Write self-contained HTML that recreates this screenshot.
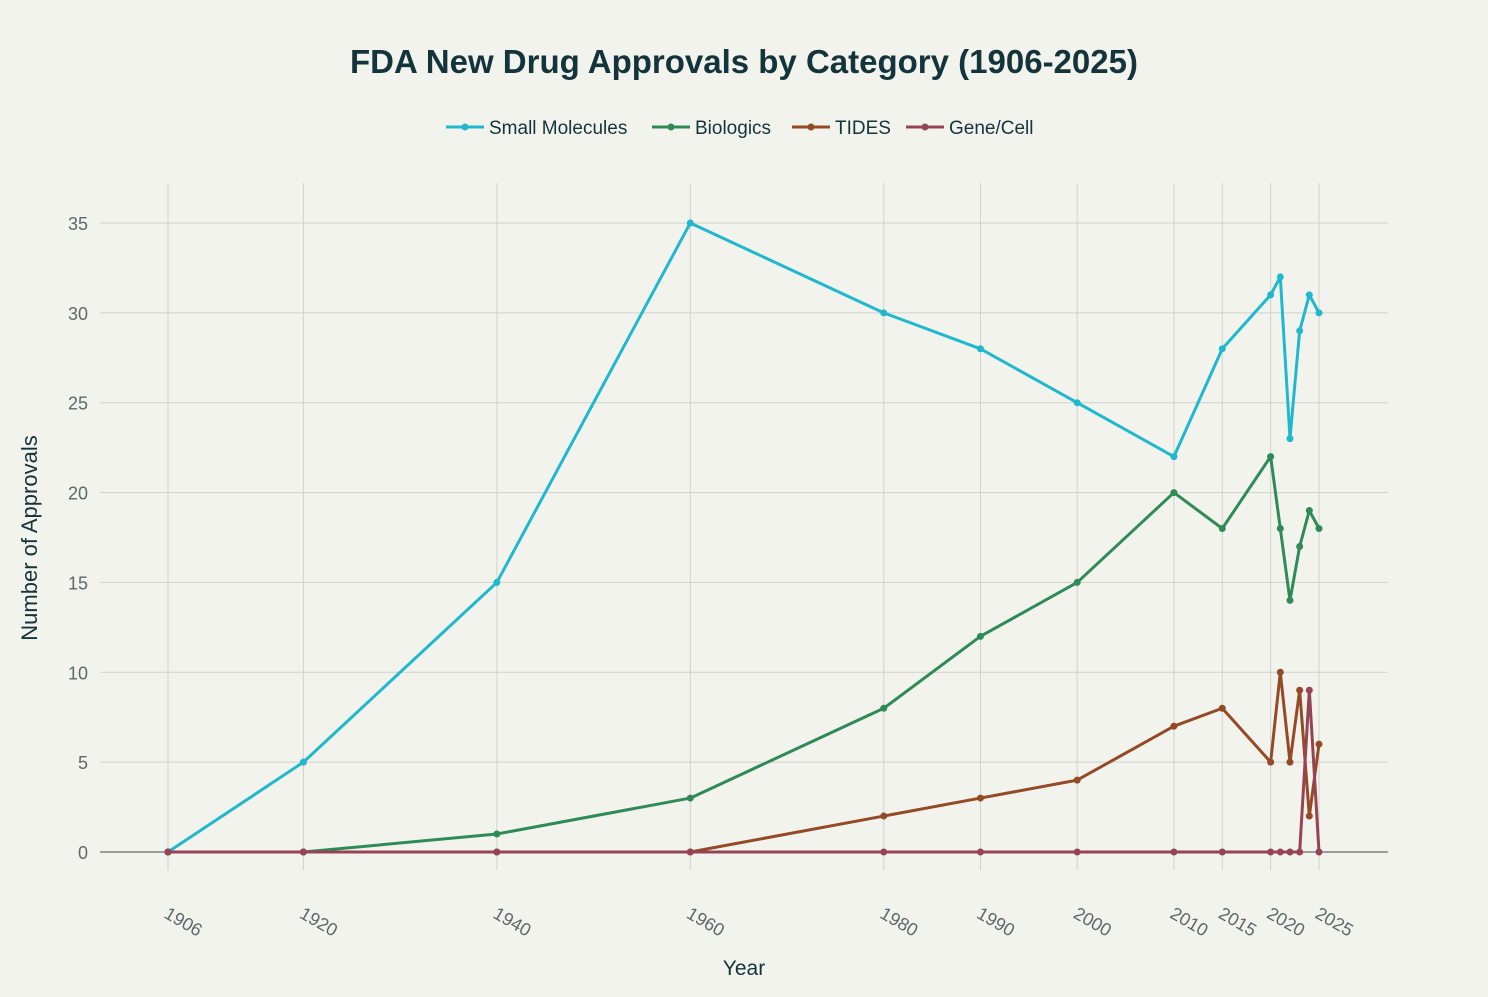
<!DOCTYPE html>
<html><head><meta charset="utf-8"><style>
body{margin:0;background:#F3F3EE;font-family:"Liberation Sans",sans-serif;}
svg text{font-family:"Liberation Sans",sans-serif;}
</style></head><body>
<svg width="1488" height="992" id="c">
<rect width="1488" height="992" fill="#F3F3EE"/>
<text x="744" y="73" text-anchor="middle" font-size="33" font-weight="bold" fill="#13343B">FDA New Drug Approvals by Category (1906-2025)</text>
<g id="legend"></g>
<g id="grid"></g><g id="marks"></g>
<text x="744" y="975" text-anchor="middle" font-size="21" fill="#13343B">Year</text>
<text transform="translate(37,538) rotate(-90)" text-anchor="middle" font-size="22" fill="#13343B">Number of Approvals</text>
</svg>
<script>
const years=[1906,1920,1940,1960,1980,1990,2000,2010,2015,2020,2021,2022,2023,2024,2025];
const smallMolecules=[0,5,15,35,30,28,25,22,28,31,32,23,29,31,30];
const biologics=[0,0,1,3,8,12,15,20,18,22,18,14,17,19,18];
const tides=[0,0,0,0,2,3,4,7,8,5,10,5,9,2,6];
const geneCell=[0,0,0,0,0,0,0,0,0,0,0,0,0,9,0];
const xTicks=[1906,1920,1940,1960,1980,1990,2000,2010,2015,2020,2025];
const yTicks=[0,5,10,15,20,25,30,35];
const seriesNames=["Small Molecules","Biologics","TIDES","Gene/Cell"];
const colors=["#1FB8CD","#2E8B57","#944A26","#964455"];
const NS="http://www.w3.org/2000/svg";
const X=v=>168+(v-1906)*(1151/119);
const Y=v=>852-v*(629/35);
function mk(t,a,p){const e=document.createElementNS(NS,t);for(const k in a)e.setAttribute(k,a[k]);p.appendChild(e);return e;}
const grid=document.getElementById('grid'),marks=document.getElementById('marks'),leg=document.getElementById('legend');
yTicks.forEach(v=>{
 if(v>0){const l=mk('line',{x1:100,x2:1388,y1:Y(v),y2:Y(v),stroke:'#D2D2CC','stroke-width':1},grid);
 
 }
 const t=mk('text',{x:88,y:Y(v)+7,'text-anchor':'end','font-size':18,fill:'#5D686B'},grid);t.textContent=v;
 
 
});
xTicks.forEach(v=>{
 const l=mk('line',{x1:X(v),x2:X(v),y1:183,y2:870,stroke:'#D2D2CC','stroke-width':1},grid);
 
 
 const t=mk('text',{transform:`translate(${X(v)-5},${917}) rotate(30)`,'font-size':18,fill:'#5D686B'},grid);t.textContent=v;
 
 
});
const zl=mk('line',{x1:100,x2:1388,y1:Y(0),y2:Y(0),stroke:'#444','stroke-width':1},grid);


[smallMolecules,biologics,tides,geneCell].forEach((s,i)=>{
 const g=mk('g',{},marks);
 
 
 mk('polyline',{points:s.map((v,j)=>X(years[j])+','+Y(v)).join(' '),fill:'none',stroke:colors[i],'stroke-width':3,'stroke-linejoin':'round'},g);
 s.forEach((v,j)=>{const c=mk('circle',{cx:X(years[j]),cy:Y(v),r:3.5,fill:colors[i]},g);
  
  });
});
const lx=[446,652,792,906];
seriesNames.forEach((n,i)=>{
 const g=mk('g',{},leg);
 
 
 mk('line',{x1:lx[i],x2:lx[i]+38,y1:127,y2:127,stroke:colors[i],'stroke-width':3},g);
 mk('circle',{cx:lx[i]+19,cy:127,r:3.5,fill:colors[i]},g);
 const t=mk('text',{x:lx[i]+43,y:134,'font-size':19,fill:'#13343B'},g);t.textContent=n;
});
</script>
</body></html>
